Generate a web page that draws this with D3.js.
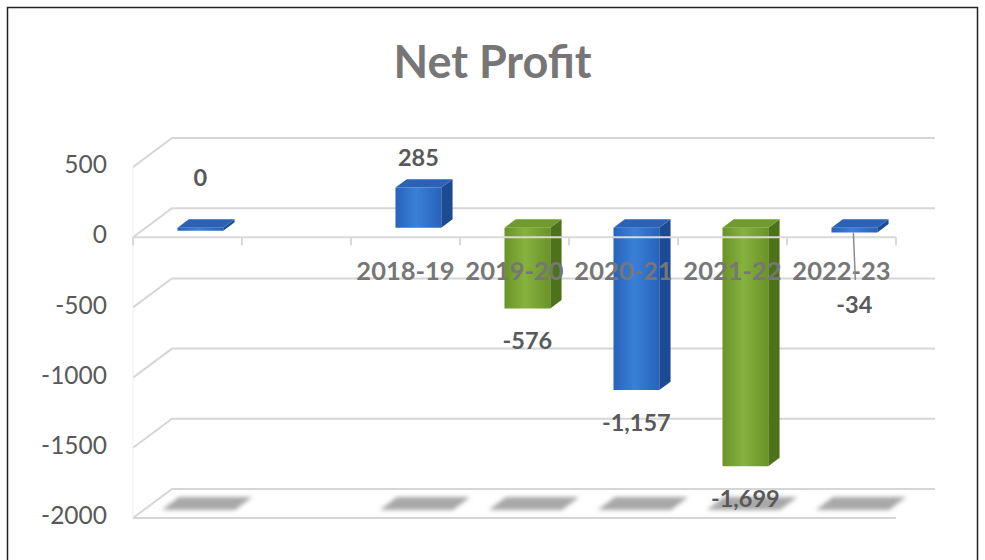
<!DOCTYPE html>
<html>
<head>
<meta charset="utf-8">
<script src="https://cdn.jsdelivr.net/npm/d3@7/dist/d3.min.js"></script>
<style>
  html, body { margin: 0; padding: 0; background: #fff; }
  svg { display: block; }
</style>
</head>
<body>
<div id="chart"></div>
<script>
// Net Profit — Excel-style 3D clustered column, faked with a simple
// oblique projection (front plane + depth offset).

const categories = ['', '', '2018-19', '2019-20', '2020-21', '2021-22', '2022-23'];
const netProfit  = [0, null, 285, -576, -1157, -1699, -34];
const barColor   = ['blue', 'blue', 'blue', 'green', 'blue', 'green', 'blue'];
const yTicks     = [500, 0, -500, -1000, -1500, -2000];
const title      = 'Net Profit';

const W = 985, H = 560;
const FONT = 'Lato, "Open Sans", sans-serif';

// depth projection: d=0 front plane, d=1 back wall
const DX = 39, DY = -29;
const BAR_D0 = 0.33, BAR_D1 = 0.62;

const PALETTE = {
  blue:  { edge: '#2863bb', mid: '#3a80d8', side: '#1d4b93', top: '#2b62b6' },
  green: { edge: '#6a9328', mid: '#86b23f', side: '#4e7219', top: '#6f9a2c' },
};

const fmt = d3.formatLocale({ decimal: '.', thousands: ',', grouping: [3], currency: ['', ''], minus: '-' });
const fmtData = fmt.format(',');
const fmtTick = fmt.format('d');

const x = d3.scaleBand().domain(d3.range(categories.length)).range([133, 896]);
const y = d3.scaleLinear().domain([-2000, 500]).range([518, 167]);

const P = (px, v, d) => [px + d * DX, y(v) + d * DY];
const poly = pts => d3.line()(pts) + 'Z';

const svg = d3.select('#chart').append('svg')
  .attr('width', W).attr('height', H)
  .attr('viewBox', `0 0 ${W} ${H}`);

const defs = svg.append('defs');
Object.entries(PALETTE).forEach(([k, c]) => {
  const g = defs.append('linearGradient').attr('id', `front-${k}`)
    .attr('x1', 0).attr('x2', 1).attr('y1', 0).attr('y2', 0);
  g.append('stop').attr('offset', '0%').attr('stop-color', c.edge);
  g.append('stop').attr('offset', '45%').attr('stop-color', c.mid);
  g.append('stop').attr('offset', '100%').attr('stop-color', c.edge);
});
defs.append('filter').attr('id', 'soft').attr('x', '-20%').attr('y', '-50%').attr('width', '140%').attr('height', '200%')
  .append('feGaussianBlur').attr('stdDeviation', 2);
defs.append('filter').attr('id', 'gsoft')
  .append('feGaussianBlur').attr('stdDeviation', 0.6);

svg.append('rect').attr('width', W).attr('height', H).attr('fill', '#fff');

// frame
svg.append('rect')
  .attr('x', 7.5).attr('y', 7.5).attr('width', 970).attr('height', 570)
  .attr('fill', 'none').attr('stroke', '#222').attr('stroke-width', 1.5);

// title
svg.append('text')
  .attr('x', W / 2).attr('y', 66)
  .attr('text-anchor', 'middle').attr('dominant-baseline', 'middle')
  .attr('font-family', FONT).attr('font-weight', 700).attr('font-size', 45)
  .attr('fill', '#767676')
  .text(title);

// walls: back gridlines + side wall diagonals
const [xL, xR] = x.range();
const grid = svg.append('g').attr('filter', 'url(#gsoft)')
  .attr('stroke', '#d6d6d6').attr('stroke-width', 2).attr('fill', 'none');
grid.selectAll('path.back').data(yTicks).join('path').attr('class', 'back')
  .attr('d', v => d3.line()([P(xL, v, 0), P(xL, v, 1), P(xR, v, 1)]));
// floor front edge
grid.append('path').attr('d', d3.line()([P(xL, -2000, 0), P(xR, -2000, 0)]));
grid.append('path').attr('stroke-width', 1).attr('stroke', '#ededed')
  .attr('d', d3.line()([P(xL, 500, 0), P(xL, -2000, 0)]));

// shadows on the floor
const bw = x.bandwidth() * 0.42;
const shadowW = bw * 1.6;
svg.append('g').attr('filter', 'url(#soft)')
  .selectAll('path').data(netProfit.map((v, i) => ({ v, i })).filter(d => d.v !== null)).join('path')
  .attr('fill', '#a8a8a8')
  .attr('d', d => {
    const cx = x(d.i) + x.bandwidth() / 2;
    const a = cx - shadowW / 2, b = cx + shadowW / 2;
    return poly([P(a, -2000, 0.28), P(b, -2000, 0.28), P(b, -2000, 0.72), P(a, -2000, 0.72)]);
  });

// bars
const bars = svg.append('g').selectAll('g')
  .data(netProfit.map((v, i) => ({ v, i, c: barColor[i] })).filter(d => d.v !== null))
  .join('g');

bars.each(function (d) {
  const g = d3.select(this);
  const c = PALETTE[d.c];
  const x0 = x(d.i) + (x.bandwidth() - bw) / 2, x1 = x0 + bw;
  const top = Math.max(d.v, 0), bot = Math.min(d.v, 0);
  // keep zero / tiny values visible as a thin slab
  const minV = y.invert(y(0) + 3);
  const botV = (top - bot) < (0 - minV) ? minV : bot;
  g.append('path').attr('fill', c.side)
    .attr('d', poly([P(x1, top, BAR_D0), P(x1, top, BAR_D1), P(x1, botV, BAR_D1), P(x1, botV, BAR_D0)]));
  g.append('path').attr('fill', `url(#front-${d.c})`)
    .attr('d', poly([P(x0, top, BAR_D0), P(x1, top, BAR_D0), P(x1, botV, BAR_D0), P(x0, botV, BAR_D0)]));
  g.append('path').attr('fill', c.top)
    .attr('d', poly([P(x0, top, BAR_D0), P(x1, top, BAR_D0), P(x1, top, BAR_D1), P(x0, top, BAR_D1)]));
});

// zero axis (front edge) drawn over the columns, with tick marks
const axis = svg.append('g').attr('stroke', '#d9d9d9').attr('stroke-width', 2).attr('fill', 'none');
axis.append('path').attr('d', d3.line()([P(xL, 0, 0), P(xR, 0, 0)]));
axis.selectAll('line').data(d3.range(categories.length + 1)).join('line')
  .attr('x1', i => xL + i * x.step()).attr('x2', i => xL + i * x.step())
  .attr('y1', y(0)).attr('y2', y(0) + 8);

// value axis labels
svg.append('g').selectAll('text').data(yTicks).join('text')
  .attr('x', 107).attr('y', v => y(v))
  .attr('text-anchor', 'end').attr('dominant-baseline', 'middle')
  .attr('font-family', FONT).attr('font-size', 24.5).attr('fill', '#595959')
  .text(v => fmtTick(v));

// category labels
svg.append('g').selectAll('text').data(categories).join('text')
  .attr('x', (c, i) => x(i) + x.bandwidth() / 2).attr('y', y(0) + 36)
  .attr('text-anchor', 'middle').attr('dominant-baseline', 'middle')
  .attr('font-family', FONT).attr('font-weight', 700).attr('font-size', 25.5)
  .attr('fill', '#767676')
  .text(c => c);

// data labels; the two near-zero points are nudged like Excel does
const LABEL_NUDGE = { 0: -20, 6: 40 };
const labelX = i => x(i) + x.bandwidth() / 2 + BAR_D0 * DX;
const labelY = (v, i) => (v > 0 || v === 0 ? y(v) - 37 : y(v) + 25) + (LABEL_NUDGE[i] || 0);

const labeled = netProfit.map((v, i) => ({ v, i })).filter(d => d.v !== null);

// leader line for the moved label
labeled.filter(d => LABEL_NUDGE[d.i] > 0).forEach(d => {
  svg.append('line')
    .attr('x1', labelX(d.i) - 1).attr('y1', P(0, 0, BAR_D0)[1] + 5)
    .attr('x2', labelX(d.i) + 1).attr('y2', labelY(d.v, d.i) - 27)
    .attr('stroke', '#8c8c8c').attr('stroke-width', 1.5);
});

svg.append('g').selectAll('text').data(labeled).join('text')
  .attr('x', d => labelX(d.i)).attr('y', d => labelY(d.v, d.i))
  .attr('text-anchor', 'middle').attr('dominant-baseline', 'middle')
  .attr('font-family', FONT).attr('font-weight', 700).attr('font-size', 23.5)
  .attr('fill', '#595959')
  .text(d => fmtData(d.v));
</script>
</body>
</html>
